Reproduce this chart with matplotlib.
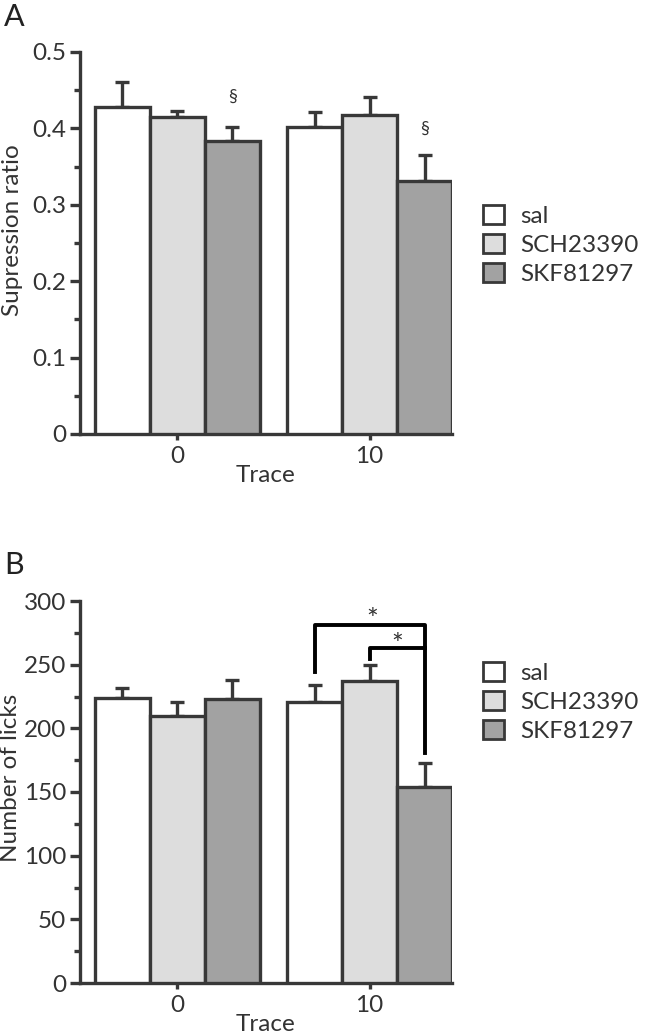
import matplotlib
matplotlib.use("Agg")
import matplotlib.pyplot as plt
from matplotlib.patches import Patch
from matplotlib.ticker import MultipleLocator, FuncFormatter

plt.rcParams["font.family"] = ["Lato", "DejaVu Sans"]

groups = ["0", "10"]
treatments = ["sal", "SCH23390", "SKF81297"]
fills = ["#ffffff", "#dddddd", "#a2a2a2"]

# panel A: suppression ratio (mean, SEM) per trace group
ratio_mean = [[0.428, 0.415, 0.384], [0.402, 0.418, 0.331]]
ratio_sem = [[0.033, 0.008, 0.018], [0.019, 0.023, 0.034]]

# panel B: number of licks
licks_mean = [[224, 210, 223], [221, 237, 154]]
licks_sem = [[8, 10.5, 15], [13, 12.5, 19]]

EDGE = "#383838"
TXT = "#333333"
FS = 17.5
LW = 2.4

fig = plt.figure(figsize=(6.56, 10.36), dpi=100)
W, H = 656, 1036


def px_axes(left, right, top, bottom):
    return fig.add_axes([left / W, 1 - bottom / H, (right - left) / W, (bottom - top) / H])


def bar_panel(ax, means, sems):
    for g in range(len(groups)):
        for t in range(len(treatments)):
            x = g * 3.5 + t
            ax.bar(x, means[g][t], width=1.0, color=fills[t], edgecolor=EDGE,
                   linewidth=LW, zorder=3)
            ax.errorbar(x, means[g][t], yerr=[[0], [sems[g][t]]], fmt="none",
                        ecolor=EDGE, elinewidth=LW, capsize=5, capthick=LW, zorder=2)
    ax.set_xlim(-0.77, 6.0)
    ax.set_xticks([1, 4.5])
    ax.set_xticklabels(groups)
    for side in ["top", "right"]:
        ax.spines[side].set_visible(False)
    for side in ["left", "bottom"]:
        ax.spines[side].set_linewidth(LW)
        ax.spines[side].set_color(EDGE)
    ax.tick_params(axis="y", which="major", length=7, width=LW, color=EDGE,
                   labelsize=FS, labelcolor=TXT, pad=3)
    ax.tick_params(axis="y", which="minor", length=4, width=LW, color=EDGE)
    ax.tick_params(axis="x", which="major", length=4, width=LW, color=EDGE,
                   labelsize=FS, labelcolor=TXT, pad=5)
    ax.set_xlabel("Trace", fontsize=FS, color=TXT)
    ax.xaxis.set_label_coords(0.5, -0.082)


def legend_at(x, y):
    handles = [Patch(facecolor=c, edgecolor=EDGE, linewidth=2.0) for c in fills]
    fig.legend(handles, treatments, loc="upper left", bbox_to_anchor=(x / W, 1 - y / H),
               frameon=False, fontsize=FS, handlelength=0.85, handleheight=0.85,
               handletextpad=0.7, labelspacing=0.28, borderpad=0, borderaxespad=0,
               labelcolor=TXT)


# ---- panel A
axA = px_axes(80, 452, 52, 434)
bar_panel(axA, ratio_mean, ratio_sem)
axA.set_ylim(0, 0.5)
axA.yaxis.set_major_locator(MultipleLocator(0.1))
axA.yaxis.set_minor_locator(MultipleLocator(0.05))
axA.yaxis.set_major_formatter(FuncFormatter(lambda v, p: "0" if abs(v) < 1e-9 else f"{v:.1f}"))
axA.set_ylabel("Supression ratio", fontsize=FS, color=TXT)
axA.yaxis.set_label_coords(-0.153, 0.534)
axA.text(2, 0.441, "§", ha="center", va="center", fontsize=13, color=TXT)
axA.text(5.5, 0.40, "§", ha="center", va="center", fontsize=13, color=TXT)
fig.text(4 / W, 1 - 3 / H, "A", fontsize=22, color="#222222", va="top", ha="left")
legend_at(483, 205)

# ---- panel B
axB = px_axes(80, 452, 601, 983)
bar_panel(axB, licks_mean, licks_sem)
axB.set_ylim(0, 300)
axB.yaxis.set_major_locator(MultipleLocator(50))
axB.yaxis.set_minor_locator(MultipleLocator(25))
axB.set_ylabel("Number of licks", fontsize=FS, color=TXT)
axB.yaxis.set_label_coords(-0.159, 0.537)
fig.text(4 / W, 1 - 551 / H, "B", fontsize=22, color="#222222", va="top", ha="left")
legend_at(483, 662)

# significance brackets (trace 10)
axB.plot([3.5, 3.5, 5.5, 5.5], [244.5, 281, 281, 180.6], color="black", lw=2.8,
         clip_on=False, zorder=4)
axB.plot([4.5, 4.5, 5.5], [254.5, 263, 263], color="black", lw=2.8,
         clip_on=False, zorder=4)
axB.text(4.55, 284, "*", ha="center", va="center", fontsize=20, color=TXT)
axB.text(5.0, 265, "*", ha="center", va="center", fontsize=20, color=TXT)

fig.savefig("out.png", dpi=100)
